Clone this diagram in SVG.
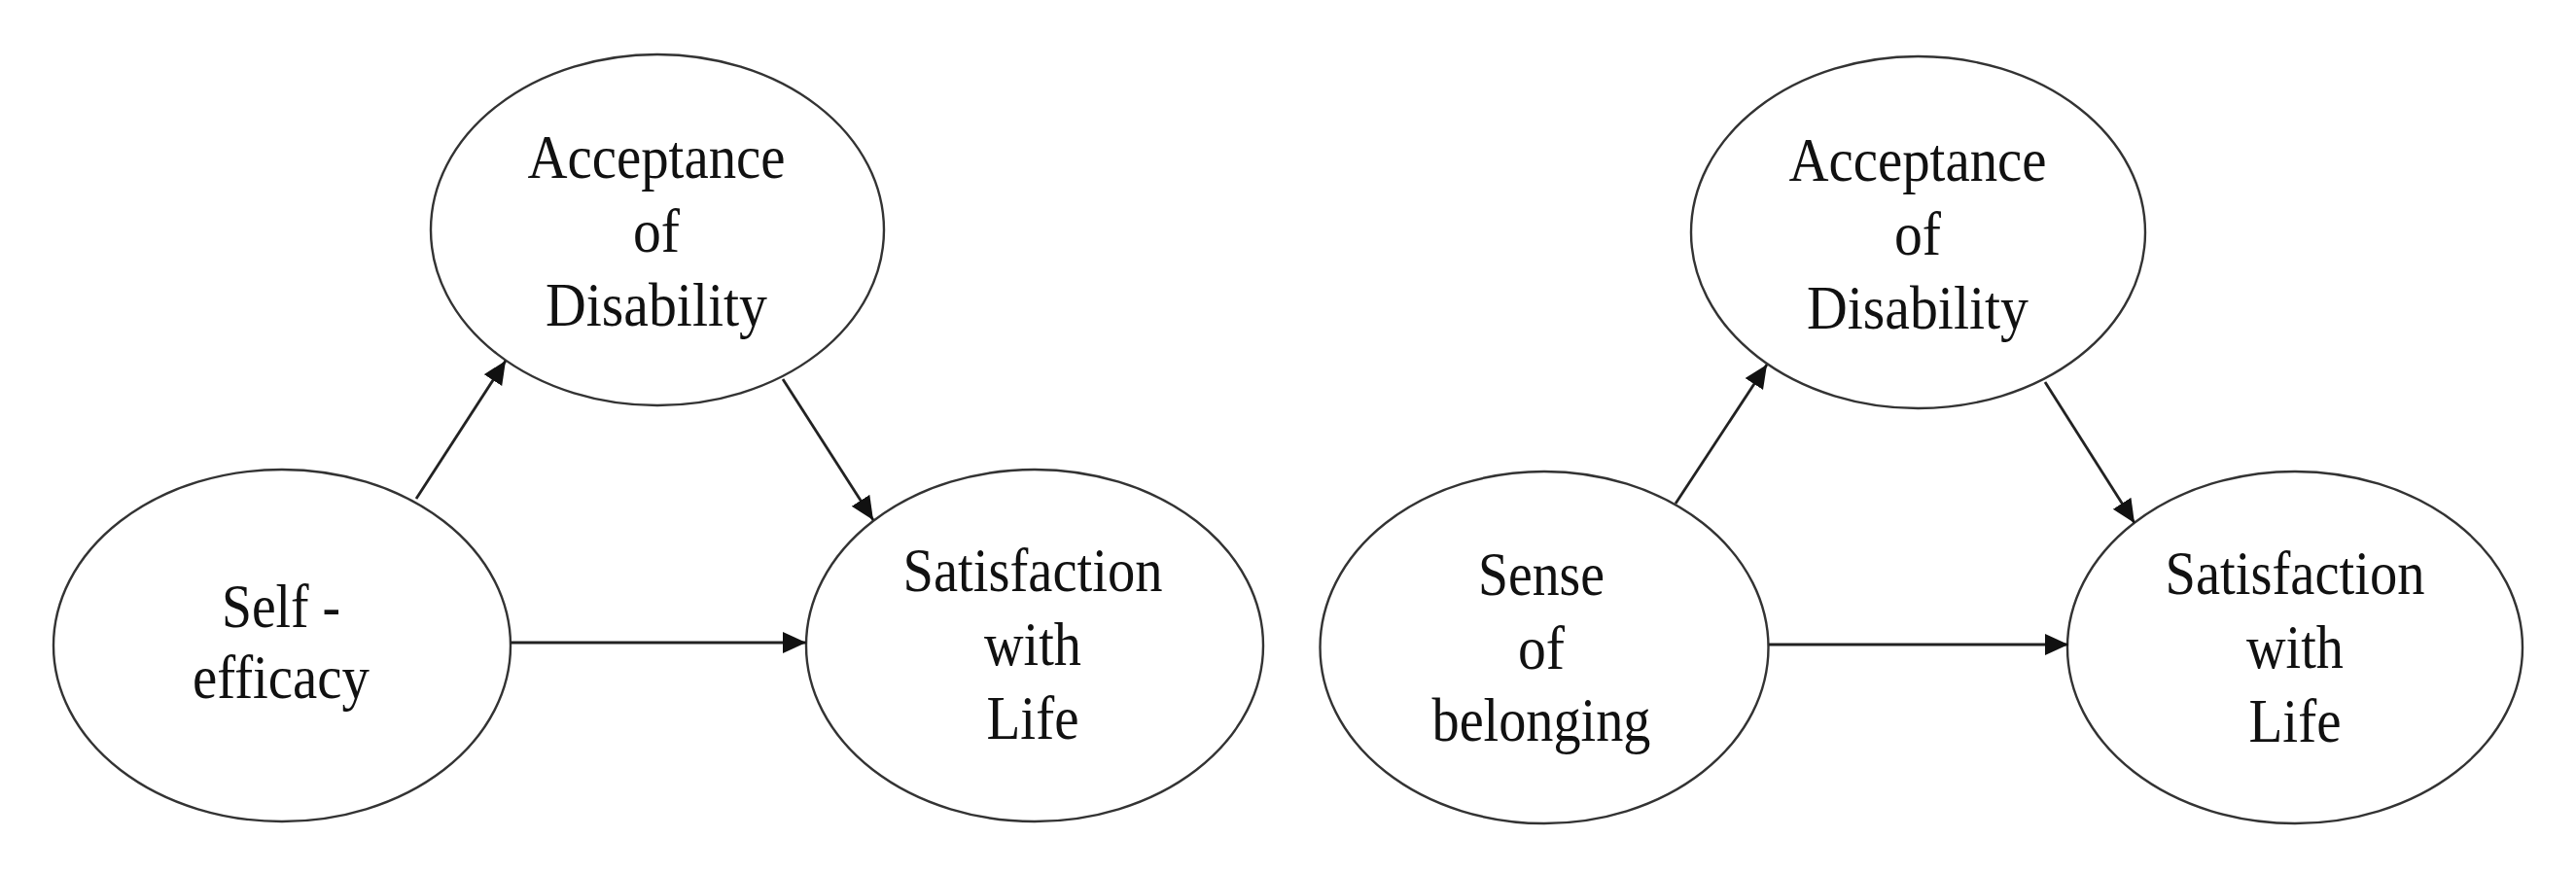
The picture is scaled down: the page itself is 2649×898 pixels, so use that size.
<svg xmlns="http://www.w3.org/2000/svg" width="2649" height="898" viewBox="0 0 2649 898">
<style>
.node ellipse{fill:#ffffff;stroke:#333333;stroke-width:2.4}
.node text{font-family:"Liberation Serif","Times New Roman",serif;font-size:63px;fill:#111111;text-anchor:middle}
.conn line{stroke:#222222;stroke-width:2.8}
</style>
<defs>
<marker id="ah" markerUnits="userSpaceOnUse" markerWidth="26" markerHeight="24" refX="24" refY="11" orient="auto">
<path d="M0,0 L24,11 L0,22 z" fill="#111111"/>
</marker>
</defs>
<rect width="2649" height="898" fill="#ffffff"/>
<g id="left-acceptance" class="node">
<ellipse cx="676" cy="236.5" rx="233" ry="180.5"/>
<text x="675" y="183" textLength="265" lengthAdjust="spacingAndGlyphs">Acceptance</text>
<text x="675" y="259" textLength="48" lengthAdjust="spacingAndGlyphs">of</text>
<text x="675" y="335" textLength="228" lengthAdjust="spacingAndGlyphs">Disability</text>
</g>
<g id="left-selfefficacy" class="node">
<ellipse cx="290" cy="664" rx="235" ry="181"/>
<text x="289" y="645" textLength="122" lengthAdjust="spacingAndGlyphs">Self -</text>
<text x="289" y="718" textLength="182" lengthAdjust="spacingAndGlyphs">efficacy</text>
</g>
<g id="left-satisfaction" class="node">
<ellipse cx="1064" cy="664" rx="235" ry="181"/>
<text x="1062" y="608" textLength="267" lengthAdjust="spacingAndGlyphs">Satisfaction</text>
<text x="1062" y="684" textLength="100" lengthAdjust="spacingAndGlyphs">with</text>
<text x="1062" y="760" textLength="95" lengthAdjust="spacingAndGlyphs">Life</text>
</g>
<g id="right-acceptance" class="node">
<ellipse cx="1972.5" cy="239" rx="233.5" ry="181"/>
<text x="1972" y="186" textLength="265" lengthAdjust="spacingAndGlyphs">Acceptance</text>
<text x="1972" y="262" textLength="48" lengthAdjust="spacingAndGlyphs">of</text>
<text x="1972" y="338" textLength="228" lengthAdjust="spacingAndGlyphs">Disability</text>
</g>
<g id="right-sense" class="node">
<ellipse cx="1588" cy="666" rx="230.5" ry="181"/>
<text x="1585" y="612" textLength="130" lengthAdjust="spacingAndGlyphs">Sense</text>
<text x="1585" y="688" textLength="48" lengthAdjust="spacingAndGlyphs">of</text>
<text x="1585" y="762" textLength="225" lengthAdjust="spacingAndGlyphs">belonging</text>
</g>
<g id="right-satisfaction" class="node">
<ellipse cx="2360" cy="666" rx="234" ry="181"/>
<text x="2360" y="611" textLength="267" lengthAdjust="spacingAndGlyphs">Satisfaction</text>
<text x="2360" y="687" textLength="100" lengthAdjust="spacingAndGlyphs">with</text>
<text x="2360" y="763" textLength="95" lengthAdjust="spacingAndGlyphs">Life</text>
</g>
<g id="connectors" class="conn">
<line x1="428" y1="513" x2="520" y2="371" marker-end="url(#ah)"/>
<line x1="805" y1="390" x2="898" y2="535" marker-end="url(#ah)"/>
<line x1="525" y1="661" x2="829" y2="661" marker-end="url(#ah)"/>
<line x1="1723" y1="518" x2="1817" y2="375" marker-end="url(#ah)"/>
<line x1="2103" y1="393" x2="2195" y2="538" marker-end="url(#ah)"/>
<line x1="1819" y1="663" x2="2127" y2="663" marker-end="url(#ah)"/>
</g>
</svg>
